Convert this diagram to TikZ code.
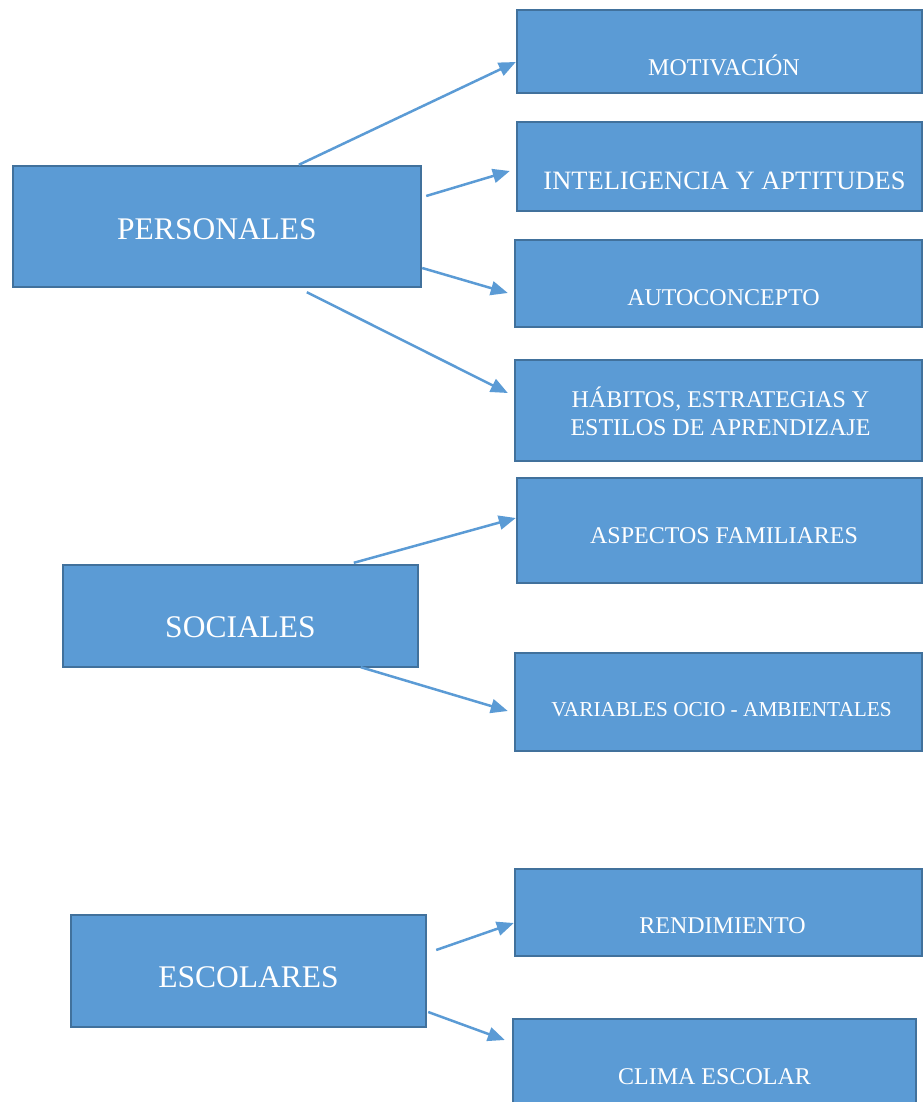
\documentclass[tikz,border=0pt]{standalone}
\usepackage{fontspec}
\setmainfont{Liberation Serif}
\usetikzlibrary{calc,arrows.meta}
\definecolor{boxfill}{HTML}{5B9BD5}
\definecolor{boxline}{HTML}{41719C}
\definecolor{arrowcol}{HTML}{5B9BD5}
\begin{document}
\begin{tikzpicture}[x=1pt,y=-1pt,
  box/.style={draw=boxline,fill=boxfill,line width=2.4pt,inner sep=0pt,rectangle},
  lbl/.style={text=white,inner sep=0pt,align=center,text depth=0pt},
  lblmulti/.style={text=white,inner sep=0pt,align=center},
  conn/.style={draw=arrowcol,line width=2.5pt,-{Triangle[length=17pt,width=14pt]}},
  fsmall/.style={font=\fontsize{24}{28}\selectfont,text height=15.9pt},
  fbig/.style={font=\fontsize{31.5}{36}\selectfont,text height=20.9pt}
]
\useasboundingbox (0,0) rectangle (923,1102);
\clip (0,0) rectangle (923,1102);
% right column
\node[box,minimum width=405pt,minimum height=83pt,
  label={[lbl,fsmall,xshift=4.5pt,yshift=-16.5pt]center:MOTIVACIÓN}] (M) at (719.5,51.5) {};
\node[box,minimum width=405pt,minimum height=89pt,
  label={[lbl,font=\fontsize{26.5}{30}\selectfont,text height=17.5pt,xshift=5pt,yshift=-14.5pt]center:INTELIGENCIA Y APTITUDES}] (I) at (719.5,166.5) {};
\node[box,minimum width=407pt,minimum height=87pt,
  label={[lbl,fsmall,xshift=5pt,yshift=-14.5pt]center:AUTOCONCEPTO}] (A) at (718.5,283.5) {};
\node[box,minimum width=407pt,minimum height=101pt,
  label={[lblmulti,font=\fontsize{24}{28}\selectfont,xshift=2pt,yshift=-0.5pt]center:HÁBITOS, ESTRATEGIAS Y\\[0pt]ESTILOS DE APRENDIZAJE}] (H) at (718.5,410.5) {};
\node[box,minimum width=405pt,minimum height=105pt,
  label={[lbl,fsmall,xshift=4.5pt,yshift=-5.5pt]center:ASPECTOS FAMILIARES}] (AF) at (719.5,530.5) {};
\node[box,minimum width=407pt,minimum height=98pt,
  label={[lbl,font=\fontsize{21.3}{25}\selectfont,text height=14.1pt,xshift=3pt,yshift=-7pt]center:VARIABLES OCIO - AMBIENTALES}] (V) at (718.5,702) {};
\node[box,minimum width=407pt,minimum height=87pt,
  label={[lbl,fsmall,xshift=4pt,yshift=-13.5pt]center:RENDIMIENTO}] (R) at (718.5,912.5) {};
\node[box,minimum width=403pt,minimum height=96pt,
  label={[lbl,fsmall,xshift=0pt,yshift=-10pt]center:CLIMA ESCOLAR}] (C) at (714.5,1067) {};
% left column
\node[box,minimum width=408pt,minimum height=121pt,
  label={[lbl,fbig,yshift=-2.5pt]center:PERSONALES}] (P) at (217,226.5) {};
\node[box,minimum width=355pt,minimum height=102pt,
  label={[lbl,fbig,yshift=-11pt]center:SOCIALES}] (S) at (240.5,616) {};
\node[box,minimum width=355pt,minimum height=112pt,
  label={[lbl,fbig,yshift=-6pt]center:ESCOLARES}] (E) at (248.5,971) {};
% connectors
\draw[conn] ($(P.north west)+(287,0)$) -- ($(M.west)+(0,10.5)$);
\draw[conn] ($(P.east)+(4,-30.5)$) -- ($(I.west)+(-6,4.5)$);
\draw[conn] ($(P.east)+(0,41.5)$) -- ($(A.west)+(-6,9.5)$);
\draw[conn] ($(P.south west)+(295,4)$) -- ($(H.west)+(-6,-17.5)$);
\draw[conn] ($(S.north west)+(292,-1)$) -- ($(AF.west)+(0,-12.5)$);
\draw[conn] ($(S.south west)+(299,-1)$) -- ($(V.west)+(-6,9)$);
\draw[conn] ($(E.east)+(9,-21)$) -- ($(R.west)+(0,10.5)$);
\draw[conn] ($(E.east)+(1,41)$) -- ($(C.west)+(-7,-27)$);
\end{tikzpicture}
\end{document}
